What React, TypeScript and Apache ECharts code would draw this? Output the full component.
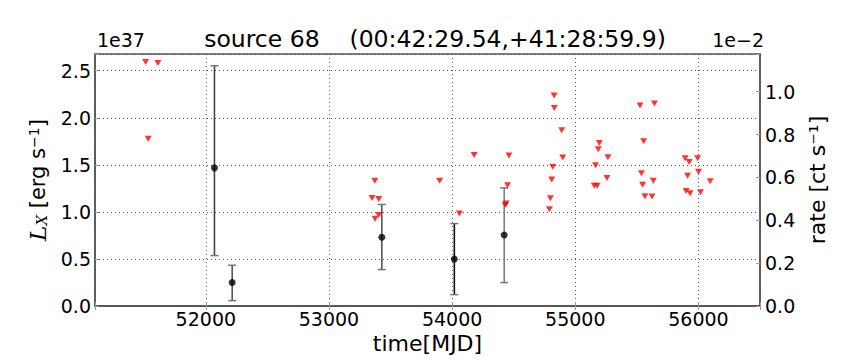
import React, { useEffect, useRef } from "react";
import * as echarts from "echarts";

// Detections (L_X in units of 1e37 erg/s)
const detX = [52070, 52214, 53429, 54018, 54423];
const detY = [1.468, 0.249, 0.731, 0.5, 0.755];
const detLo = [0.536, 0.057, 0.387, 0.121, 0.249];
const detHi = [2.553, 0.433, 1.079, 0.876, 1.255];

// Upper limits (L_X in units of 1e37 erg/s)
const ulX = [
  51511, 51611, 51532, 53372, 53350, 53404, 53404, 53374, 53899, 54059, 54179,
  54461, 54450, 54439, 54431, 54790, 54798, 54809, 54817, 54828, 54830, 54890,
  54898, 55195, 55187, 55265, 55165, 55257, 55154, 55178, 55526, 55643, 55556,
  55537, 55547, 55566, 55623, 55634, 55892, 55925, 55993, 56001, 55912, 56096,
  55900, 55932, 56017,
];
const ulY = [
  2.593, 2.582, 1.777, 1.33, 1.149, 1.138, 0.968, 0.926, 1.33, 0.983, 1.606,
  1.6, 1.284, 1.089, 1.074, 1.029, 1.146, 1.344, 1.479, 2.238, 2.103, 1.869,
  1.578, 1.731, 1.667, 1.582, 1.497, 1.359, 1.277, 1.277, 2.13, 2.153, 1.752,
  1.412, 1.288, 1.167, 1.164, 1.33, 1.571, 1.529, 1.571, 1.426, 1.383, 1.327,
  1.223, 1.199, 1.21,
];

// Axis settings
const xMin = 51100;
const xMax = 56500;
const leftMax = 2.678;
const rightMax = 1.176;
const titleText = "source 68    (00:42:29.54,+41:28:59.9)";

// style only
const ERR_COLORS = ["#444444", "#555555", "#555555", "#111111", "#808080"];

const FONT = "DejaVu Sans";

export default function App() {
  const ref = useRef<HTMLDivElement>(null);
  useEffect(() => {
    if (!ref.current) return;
    const chart = echarts.init(ref.current, undefined, { renderer: "svg" });
    const gridLine = { show: true, lineStyle: { color: "#555", type: [1, 3] as any, width: 1 } };
    const isMult = (v: number, step: number) =>
      Math.abs(v / step - Math.round(v / step)) < 1e-6;
    chart.setOption({
      animation: false,
      backgroundColor: "#fff",
      title: {
        text: titleText,
        left: 430,
        top: 22,
        textAlign: "center",
        textStyle: { fontFamily: FONT, fontSize: 23.5, fontWeight: "normal", color: "#000" },
      },
      grid: {
        left: 95,
        right: 104,
        top: 54,
        bottom: 54,
        show: true,
        borderColor: "#555",
        borderWidth: 1.5,
        backgroundColor: "transparent",
      },
      graphic: [
        {
          type: "text",
          x: 97,
          y: 40,
          style: { text: "1e37", fontFamily: FONT, fontSize: 19, fill: "#000", textAlign: "left", textVerticalAlign: "middle" },
        },
        {
          type: "text",
          x: 764,
          y: 40,
          style: { text: "1e\u22122", fontFamily: FONT, fontSize: 19, fill: "#000", textAlign: "right", textVerticalAlign: "middle" },
        },
      ],
      xAxis: [
        {
          type: "value",
          min: xMin,
          max: xMax,
          splitNumber: 5,
          name: "time[MJD]",
          nameLocation: "middle",
          nameGap: 26,
          nameTextStyle: { fontFamily: FONT, fontSize: 22, color: "#000" },
          axisLine: { show: true, onZero: false, lineStyle: { color: "#555", width: 1.5 } },
          axisTick: { show: true, inside: true, length: 4, lineStyle: { color: "#999" } },
          axisLabel: {
            fontFamily: FONT,
            fontSize: 19,
            color: "#000",
            margin: 3,
            formatter: (v: number) => (isMult(v, 1000) ? String(v) : ""),
          },
          splitLine: gridLine,
        },
        {
          type: "value",
          position: "top",
          min: xMin,
          max: xMax,
          splitNumber: 5,
          axisLine: { show: true, lineStyle: { color: "#555", width: 1.5 } },
          axisTick: { show: true, inside: true, length: 4, lineStyle: { color: "#999" } },
          axisLabel: { show: false },
          splitLine: { show: false },
        },
      ],
      yAxis: [
        {
          type: "value",
          min: 0,
          max: leftMax,
          interval: 0.5,
          position: "left",
          name: "{i|L}{sub|X} [erg s{sup|\u22121}]",
          nameLocation: "middle",
          nameRotate: 90,
          nameGap: 42,
          nameTextStyle: {
            fontFamily: FONT,
            fontSize: 21,
            color: "#000",
            rich: {
              i: { fontFamily: "DejaVu Serif", fontStyle: "italic", fontSize: 23, color: "#000" },
              sub: { fontFamily: "DejaVu Serif", fontStyle: "italic", fontSize: 15, color: "#000", verticalAlign: "bottom" },
              sup: { fontFamily: FONT, fontSize: 14, color: "#000", verticalAlign: "top" },
            },
          },
          axisLine: { show: true, lineStyle: { color: "#555", width: 1.5 } },
          axisTick: { show: true, inside: true, length: 4, lineStyle: { color: "#999" } },
          axisLabel: {
            fontFamily: FONT,
            fontSize: 19,
            color: "#000",
            margin: 4,
            formatter: (v: number) => (isMult(v, 0.5) ? v.toFixed(1) : ""),
          },
          splitLine: gridLine,
        },
        {
          type: "value",
          min: 0,
          max: rightMax,
          interval: 0.2,
          position: "right",
          name: "rate [ct s\u207B\u00B9]",
          nameLocation: "middle",
          nameRotate: 90,
          nameGap: 42,
          nameTextStyle: {
            fontFamily: FONT,
            fontSize: 22,
            color: "#000",
          },
          axisLine: { show: true, lineStyle: { color: "#555", width: 1.5 } },
          axisTick: { show: true, inside: true, length: 4, lineStyle: { color: "#999" } },
          axisLabel: {
            fontFamily: FONT,
            fontSize: 19,
            color: "#000",
            margin: 5,
            formatter: (v: number) => (isMult(v, 0.2) ? v.toFixed(1) : ""),
          },
          splitLine: { show: false },
        },
      ],
      series: [
        {
          type: "custom",
          name: "errors",
          xAxisIndex: 0,
          yAxisIndex: 0,
          encode: { x: 0, y: [1, 2] },
          data: detX.map((x, i) => [x, detLo[i], detHi[i]]),
          renderItem: (params: any, api: any) => {
            const x = api.value(0);
            const lo = api.coord([x, api.value(1)]);
            const hi = api.coord([x, api.value(2)]);
            const c = ERR_COLORS[params.dataIndex] || "#333";
            const cap = 4;
            return {
              type: "group",
              children: [
                { type: "line", shape: { x1: lo[0], y1: lo[1], x2: hi[0], y2: hi[1] }, style: { stroke: c, lineWidth: 1.6 } },
                { type: "line", shape: { x1: lo[0] - cap, y1: lo[1], x2: lo[0] + cap, y2: lo[1] }, style: { stroke: "#777", lineWidth: 1.5 } },
                { type: "line", shape: { x1: hi[0] - cap, y1: hi[1], x2: hi[0] + cap, y2: hi[1] }, style: { stroke: "#777", lineWidth: 1.5 } },
              ],
            };
          },
          z: 2,
        },
        {
          type: "scatter",
          name: "detections",
          xAxisIndex: 0,
          yAxisIndex: 0,
          data: detX.map((x, i) => [x, detY[i]]),
          symbol: "circle",
          symbolSize: 7,
          itemStyle: { color: "#000" },
          z: 3,
        },
        {
          type: "scatter",
          name: "upper limits",
          xAxisIndex: 0,
          yAxisIndex: 0,
          data: ulX.map((x, i) => [x, ulY[i]]),
          symbol: "triangle",
          symbolRotate: 180,
          symbolSize: [7, 6],
          itemStyle: { color: "#ff0000" },
          z: 4,
        },
      ],
    });
    return () => chart.dispose();
  }, []);
  return (
    <div
      ref={ref}
      style={{ position: "absolute", left: 0, top: 0, width: 864, height: 360 }}
    />
  );
}
